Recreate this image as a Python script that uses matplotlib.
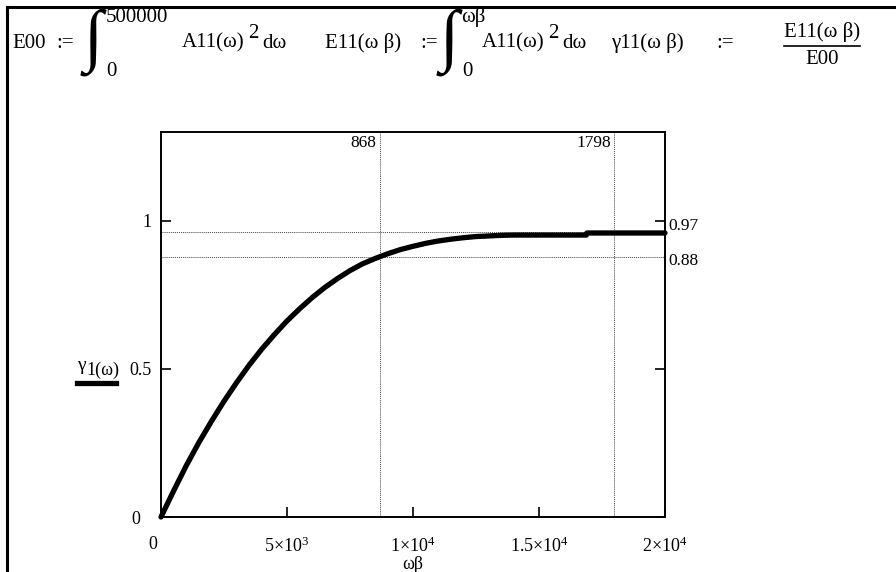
import numpy as np
import matplotlib
matplotlib.use("Agg")
import matplotlib.pyplot as plt
from matplotlib.lines import Line2D
from matplotlib.transforms import ScaledTranslation

plt.rcParams['font.family'] = ['Liberation Serif', 'DejaVu Serif']
plt.rcParams['mathtext.fontset'] = 'custom'
plt.rcParams['mathtext.rm'] = 'Liberation Serif'
plt.rcParams['mathtext.it'] = 'Liberation Serif'

# curve gamma_1 vs omega*beta
wb = [0, 500, 1000, 1500, 2000, 2500, 3000, 3500, 4000, 4500, 5000, 5500,
      6000, 6500, 7000, 7500, 8000, 8500, 9000, 9500, 10000, 10500, 11000,
      11500, 12000, 12500, 13000, 13500, 14000, 16880, 16900, 20000]
gam = [0, 0.088, 0.173, 0.251, 0.323, 0.391, 0.454, 0.513, 0.567, 0.616,
       0.662, 0.703, 0.741, 0.775, 0.805, 0.832, 0.855, 0.873, 0.889, 0.903,
       0.914, 0.924, 0.932, 0.938, 0.943, 0.947, 0.949, 0.951, 0.952, 0.952,
       0.959, 0.959]

# markers
vmark = [8680, 17980]
vmark_lab = ['868', '1798']
hmark = [0.961, 0.878]
hmark_lab = ['0.97', '0.88']

xticks = [0, 5e3, 1e4, 1.5e4, 2e4]
xtick_lab = ['0', r'$5{\times}10^{3}$', r'$1{\times}10^{4}$', r'$1.5{\times}10^{4}$', r'$2{\times}10^{4}$']
yticks = [0, 0.5, 1]
ytick_lab = ['0', '0.5', '1']

W, H = 896, 572
fig = plt.figure(figsize=(W/100, H/100), dpi=100)

def P(x, y):
    return (x/W, 1 - y/H)

# plot box in pixels: left 161, right 665, bottom 517, top 132
ax = fig.add_axes([161/W, 1 - 517/H, 504/W, 385/H])
ax.set_xlim(0, 2e4)
ax.set_ylim(0, 1.3)

for v in vmark:
    ax.axvline(v, color='#444444', lw=0.7, linestyle=(0, (1, 1)))
for h in hmark:
    ax.axhline(h, color='#444444', lw=0.7, linestyle=(0, (1, 1)))

ax.plot(wb, gam, color='black', lw=3.8, solid_capstyle='round',
        solid_joinstyle='round', clip_on=False)

for v, s in zip(vmark, vmark_lab):
    ax.text(v - 120, 1.29, s, ha='right', va='top', fontsize=12.5)
ax.text(2e4 + 150, hmark[0] - 0.005, hmark_lab[0], ha='left', va='bottom', fontsize=12.5)
ax.text(2e4 + 150, hmark[1] - 0.015, hmark_lab[1], ha='left', va='center', fontsize=12.5)

ax.set_xticks(xticks)
ax.set_xticklabels(xtick_lab, fontsize=13)
ax.set_yticks(yticks)
ax.set_yticklabels(ytick_lab, fontsize=13)
ax.tick_params(direction='in', length=7, width=1.2, right=True, top=False)
ax.tick_params(axis='y', pad=7)
ax.tick_params(axis='x', pad=14)
for sp in ax.spines.values():
    sp.set_linewidth(1.4)

# Mathcad puts the zero labels a bit off to the left
lx = ax.get_xticklabels()[0]
lx.set_transform(lx.get_transform() + ScaledTranslation(-0.08, 0, fig.dpi_scale_trans))
ly = ax.get_yticklabels()[0]
ly.set_transform(ly.get_transform() + ScaledTranslation(-0.11, 0, fig.dpi_scale_trans))

ax.set_xlabel('ωβ', fontsize=13, labelpad=0)

# y axis label with trace sample
fig.text(*P(77, 366), 'γ', fontsize=14, ha='left', va='center')
fig.text(*P(86, 370), '1(ω)', fontsize=13, ha='left', va='center')
fig.add_artist(Line2D([77/W, 116/W], [1 - 383/H, 1 - 383/H], color='black', lw=3.8))

# frame of the worksheet region
fig.add_artist(Line2D([7/W, 1], [1 - 7/H, 1 - 7/H], color='black', lw=2.2))
fig.add_artist(Line2D([7/W, 7/W], [1 - 7/H, 0], color='black', lw=2.2))

# header formulas
fs = 15
yb = 43
fig.text(*P(12, yb), 'E00', fontsize=fs, va='center')
fig.text(*P(56, yb), ':=', fontsize=fs, va='center')
fig.text(*P(84, yb - 1), '∫', fontsize=50, va='center')
fig.text(*P(106, 17), '500000', fontsize=fs, va='center')
fig.text(*P(106, 71), '0', fontsize=fs, va='center')
fig.text(*P(182, yb), 'A11(ω)', fontsize=fs, va='center')
fig.text(*P(248, yb - 10), '2', fontsize=fs, va='center')
fig.text(*P(262, yb), 'dω', fontsize=fs, va='center')

fig.text(*P(325, yb), 'E11(ω β)', fontsize=fs, va='center')
fig.text(*P(420, yb), ':=', fontsize=fs, va='center')
fig.text(*P(440, yb - 1), '∫', fontsize=50, va='center')
fig.text(*P(461, 17), 'ωβ', fontsize=fs, va='center')
fig.text(*P(462, 71), '0', fontsize=fs, va='center')
fig.text(*P(482, yb), 'A11(ω)', fontsize=fs, va='center')
fig.text(*P(548, yb - 10), '2', fontsize=fs, va='center')
fig.text(*P(562, yb), 'dω', fontsize=fs, va='center')

fig.text(*P(611, yb), 'γ11(ω β)', fontsize=fs, va='center')
fig.text(*P(716, yb), ':=', fontsize=fs, va='center')
fig.text(*P(822, 32), 'E11(ω β)', fontsize=fs, ha='center', va='center')
fig.add_artist(Line2D([784/W, 860/W], [1 - 46/H, 1 - 46/H], color='black', lw=1.2))
fig.text(*P(822, 59), 'E00', fontsize=fs, ha='center', va='center')

fig.savefig('out.png', dpi=100)
